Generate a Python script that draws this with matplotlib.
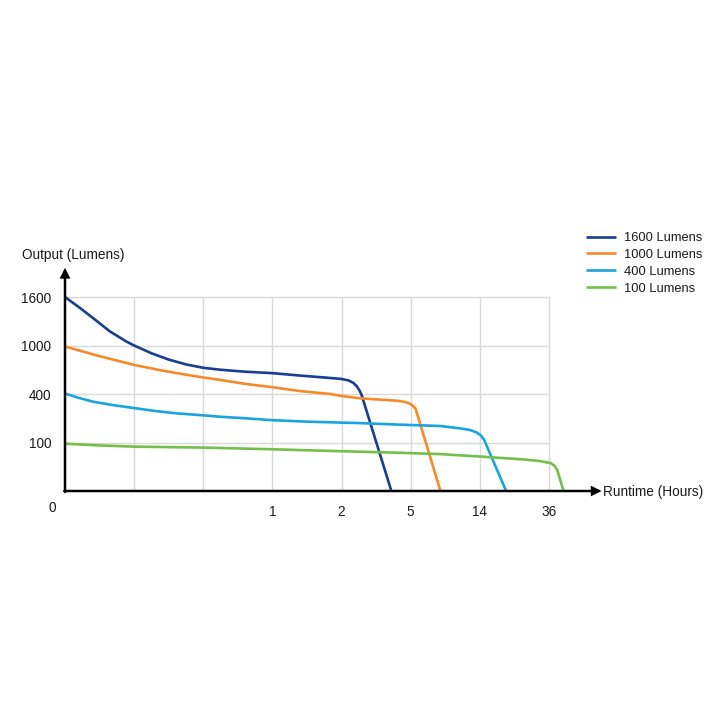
import matplotlib
matplotlib.use("Agg")
import matplotlib.pyplot as plt

plt.rcParams["font.family"] = ["Liberation Sans", "DejaVu Sans"]

# positions on the chart: x in grid columns, y in grid rows (labels are not linear)
x_ticks = [3, 4, 5, 6, 7]
x_labels = ["1", "2", "5", "14", "36"]
y_ticks = [1, 2, 3, 4]
y_labels = ["100", "400", "1000", "1600"]

names = ["1600 Lumens", "1000 Lumens", "400 Lumens", "100 Lumens"]
colors = ["#173E8F", "#F58A2C", "#1BA3E0", "#72BF4B"]

x_1600 = [0, 0.22, 0.41, 0.65, 0.89, 1.0, 1.25, 1.5, 1.75, 2.0, 2.25, 2.6, 3.0, 3.4,
          3.84, 4.0, 4.1, 4.17, 4.22, 4.26, 4.29, 4.72]
y_1600 = [4, 3.77, 3.56, 3.29, 3.08, 3.0, 2.84, 2.71, 2.61, 2.54, 2.50, 2.46, 2.43, 2.38,
          2.33, 2.31, 2.28, 2.23, 2.16, 2.07, 1.98, 0]

x_1000 = [0, 0.25, 0.5, 0.75, 1.0, 1.38, 1.7, 2.0, 2.25, 2.6, 3.0, 3.4, 3.84, 4.0, 4.27,
          4.6, 4.81, 4.9, 4.97, 5.02, 5.07, 5.43]
y_1000 = [2.98, 2.88, 2.78, 2.69, 2.60, 2.49, 2.41, 2.34, 2.29, 2.21, 2.14, 2.06, 2.0, 1.96,
          1.91, 1.88, 1.86, 1.84, 1.81, 1.77, 1.70, 0]

x_400 = [0, 0.2, 0.41, 0.7, 1.0, 1.3, 1.62, 2.0, 2.25, 2.6, 3.0, 3.5, 4.0, 4.27, 4.8,
         5.43, 5.72, 5.85, 5.95, 6.01, 6.06, 6.38]
y_400 = [2.01, 1.92, 1.84, 1.77, 1.71, 1.65, 1.60, 1.56, 1.53, 1.50, 1.46, 1.43, 1.41,
         1.40, 1.37, 1.34, 1.29, 1.26, 1.21, 1.15, 1.06, 0]

x_100 = [0, 0.5, 1.0, 1.5, 2.0, 3.0, 4.0, 4.8, 5.43, 6.01, 6.64, 6.85, 6.97, 7.03, 7.08,
         7.12, 7.21]
y_100 = [0.975, 0.94, 0.915, 0.905, 0.895, 0.86, 0.82, 0.79, 0.76, 0.71, 0.65, 0.62, 0.59,
         0.57, 0.52, 0.43, 0]

series = [(x_1600, y_1600), (x_1000, y_1000), (x_400, y_400), (x_100, y_100)]

GRID = "#D9D9D9"
TXT = "#1A1A1A"

fig = plt.figure(figsize=(7.2, 7.2), dpi=100)
ax = fig.add_axes([65 / 720, 229 / 720, 484 / 720, 194 / 720])
ax.set_xlim(0, 7)
ax.set_ylim(0, 4)

for v in range(1, 7):
    ax.axvline(v, color=GRID, lw=1, zorder=0)
for v in range(1, 4):
    ax.axhline(v, color=GRID, lw=1, zorder=0)

for (xs, ys), name, c in zip(series, names, colors):
    ax.plot(xs, ys, color=c, lw=1.9, label=name, clip_on=False, zorder=3,
            solid_joinstyle="round", solid_capstyle="butt")

for s in ["top", "right"]:
    ax.spines[s].set_color(GRID)
    ax.spines[s].set_linewidth(1)
for s in ["left", "bottom"]:
    ax.spines[s].set_visible(False)

# axis lines with arrow heads
arrow = dict(arrowstyle="-|>", color="black", lw=1.8, mutation_scale=12,
             shrinkA=0, shrinkB=0, joinstyle="miter")
ax.annotate("", xy=(7.76, 0), xytext=(-0.01, 0), annotation_clip=False,
            arrowprops=arrow, zorder=4)
ax.annotate("", xy=(0, 4.6), xytext=(0, -0.02), annotation_clip=False,
            arrowprops=arrow, zorder=4)

ax.set_xticks(x_ticks)
ax.set_xticklabels(x_labels)
ax.set_yticks(y_ticks)
ax.set_yticklabels(y_labels)
ax.tick_params(length=0, labelsize=9.8, colors=TXT)
ax.tick_params(axis="x", pad=10)
ax.tick_params(axis="y", pad=10)
ax.text(-0.19, -0.35, "0", ha="center", va="center", fontsize=9.8, color=TXT)

fig.text(22 / 720, 1 - 255 / 720, "Output (Lumens)", ha="left", va="center",
         fontsize=9.8, color=TXT)
fig.text(603 / 720, 1 - 492 / 720, "Runtime (Hours)", ha="left", va="center",
         fontsize=9.8, color=TXT)

fig.legend(loc="upper left", bbox_to_anchor=(586 / 720, 1 - 232 / 720),
           frameon=False, fontsize=9.3, handlelength=2.3, handletextpad=0.65,
           labelspacing=0.38, borderpad=0, borderaxespad=0, labelcolor=TXT)

fig.savefig("out.png", dpi=100, facecolor="white")
